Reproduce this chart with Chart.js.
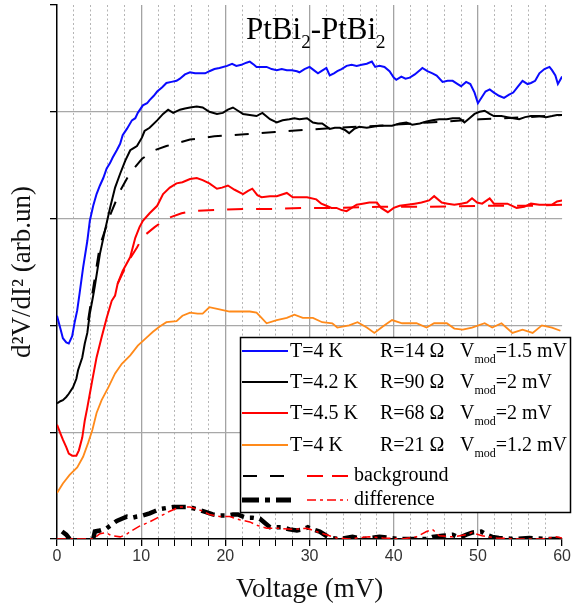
<!DOCTYPE html>
<html>
<head>
<meta charset="utf-8">
<script src="https://cdn.jsdelivr.net/npm/chart.js@4.4.1/dist/chart.umd.min.js"></script>
<style>
  html, body { margin: 0; padding: 0; background: #fff; }
</style>
</head>
<body>
<canvas id="chart" width="572" height="610"></canvas>
<script>
// T=4 K, R=14 Ohm (blue)
const blueX = [0,0.4,0.7,1.1,1.4,1.8,2.1,2.4,2.7,3.1,3.6,3.9,4.3,4.7,5.1,5.5,5.9,6.3,6.6,7.1,7.5,7.8,8.3,8.9,9.3,9.6,10.2,10.7,11.0,11.5,11.9,12.5,13.0,13.6,14.2,14.6,15.2,15.8,16.4,17.0,17.6,18.1,18.7,19.3,20.2,20.8,21.3,21.9,22.5,22.9,23.4,23.7,24.3,24.9,25.5,26.1,26.7,27.3,27.9,28.5,28.8,29.4,30.0,30.5,31.0,31.4,32.0,32.4,32.9,33.3,33.8,34.4,35.0,35.6,36.2,36.8,37.4,37.8,38.3,38.9,39.5,40.0,40.3,40.9,41.4,41.9,42.5,43.1,43.4,44.0,44.6,45.1,45.8,46.4,47.0,47.6,48.0,48.6,49.1,49.6,50.0,50.4,50.9,51.4,51.9,52.5,53.1,53.7,54.2,54.7,55.3,55.9,56.3,56.8,57.3,57.9,58.5,58.8,59.2,59.5,60];
const blueY = [2.09,1.97,1.88,1.84,1.83,1.90,2.03,2.14,2.31,2.54,2.79,2.98,3.12,3.23,3.31,3.38,3.47,3.52,3.57,3.64,3.70,3.78,3.84,3.92,3.94,3.99,4.06,4.08,4.11,4.15,4.19,4.23,4.27,4.28,4.29,4.31,4.35,4.37,4.36,4.36,4.36,4.38,4.40,4.41,4.43,4.45,4.43,4.44,4.46,4.47,4.44,4.42,4.42,4.42,4.40,4.39,4.40,4.39,4.39,4.38,4.37,4.40,4.42,4.39,4.36,4.38,4.41,4.34,4.36,4.38,4.40,4.43,4.44,4.43,4.44,4.45,4.47,4.42,4.43,4.42,4.38,4.32,4.30,4.33,4.31,4.32,4.35,4.39,4.41,4.38,4.36,4.34,4.28,4.29,4.29,4.26,4.24,4.28,4.26,4.18,4.08,4.13,4.19,4.21,4.18,4.15,4.13,4.16,4.18,4.23,4.29,4.26,4.27,4.29,4.36,4.40,4.42,4.39,4.34,4.26,4.33];

// T=4.2 K, R=90 Ohm (black) + background
const blackX = [0,0.4,0.7,1.1,1.4,1.9,2.3,2.5,3.0,3.3,3.6,3.9,4.3,4.5,5.1,5.7,6.3,6.9,7.5,8.1,8.7,9.1,9.5,10.1,10.4,11.0,11.9,12.6,13.2,13.8,14.6,15.2,15.8,16.6,17.3,18.1,19.0,19.7,20.3,20.9,21.5,22.1,22.9,23.7,24.4,25.3,26.1,26.8,27.6,28.2,28.8,29.7,30.4,31.0,31.5,32.4,33.0,33.6,34.2,34.7,35.3,35.9,36.8,37.5,38.3,39.1,39.8,40.7,41.5,42.2,43.1,43.9,44.6,45.4,46.3,47.0,47.8,48.4,49.0,49.6,50.2,50.8,51.4,51.9,52.8,53.5,54.2,54.9,55.6,56.3,57.3,58.1,58.8,59.4,60];
const blackY = [1.27,1.29,1.30,1.33,1.36,1.42,1.50,1.58,1.70,1.83,1.93,2.11,2.28,2.37,2.67,2.89,3.10,3.29,3.42,3.54,3.64,3.66,3.68,3.76,3.82,3.85,3.92,3.98,4.02,3.99,4.02,4.03,4.04,4.05,4.04,4.00,3.98,3.99,4.02,4.04,4.01,3.98,3.97,3.96,3.99,3.93,3.90,3.92,3.93,3.94,3.93,3.94,3.90,3.89,3.89,3.84,3.85,3.85,3.83,3.80,3.84,3.86,3.85,3.86,3.87,3.87,3.87,3.89,3.90,3.88,3.89,3.91,3.92,3.93,3.93,3.94,3.94,3.90,3.94,3.98,4.00,4.01,3.98,3.96,3.96,3.95,3.94,3.93,3.95,3.96,3.96,3.95,3.96,3.97,3.97];
const blackBgX = [3.7,5.1,6.3,7.5,8.7,10.1,11.6,13.0,15.8,18.7,22.3,25.9,29.4,33.0,38.3,44.2,50.2,56.1,60];
const blackBgY = [2.05,2.75,3.03,3.26,3.43,3.56,3.64,3.68,3.74,3.77,3.79,3.81,3.83,3.85,3.87,3.90,3.93,3.95,3.97];

// T=4.5 K, R=68 Ohm (red) + background
const redX = [0,0.4,0.7,1.1,1.4,1.8,2.3,2.6,3.0,3.3,3.6,3.9,4.2,4.7,5.3,5.9,6.5,6.9,7.2,7.8,8.7,9.3,9.8,10.2,11.0,11.9,12.6,13.4,14.2,14.9,15.8,16.6,17.3,18.1,19.0,19.6,20.3,21.1,22.1,22.7,23.2,23.8,24.3,25.3,26.1,27.3,28.0,28.8,29.7,30.8,31.4,32.0,32.6,33.2,33.8,34.4,35.0,35.6,36.3,37.1,38.0,38.5,39.3,40.0,40.7,41.6,42.5,43.3,44.2,44.8,45.7,46.4,47.2,48.0,48.7,49.3,49.9,50.5,51.4,51.9,52.5,53.5,54.6,55.5,56.3,57.3,58.1,58.8,59.4,60];
const redY = [1.07,0.99,0.93,0.86,0.80,0.78,0.78,0.83,0.95,1.11,1.23,1.36,1.49,1.70,1.89,2.07,2.23,2.28,2.39,2.51,2.64,2.82,2.92,2.98,3.05,3.12,3.23,3.29,3.33,3.34,3.37,3.38,3.36,3.33,3.28,3.29,3.31,3.27,3.23,3.26,3.28,3.22,3.20,3.21,3.21,3.24,3.20,3.20,3.20,3.18,3.14,3.12,3.10,3.10,3.08,3.07,3.10,3.13,3.14,3.15,3.15,3.10,3.06,3.10,3.12,3.13,3.14,3.15,3.17,3.21,3.15,3.14,3.13,3.14,3.15,3.19,3.15,3.14,3.19,3.14,3.14,3.14,3.10,3.11,3.14,3.13,3.13,3.13,3.16,3.17];
const redBgX = [7.2,8.4,9.5,10.2,11.6,13.0,14.8,16.1,18.7,22.3,25.9,29.4,33.0,38.3,44.2,50.2,56.1,60];
const redBgY = [2.39,2.59,2.73,2.83,2.92,3.00,3.05,3.07,3.08,3.09,3.09,3.10,3.10,3.11,3.11,3.12,3.12,3.13];

// T=4 K, R=21 Ohm (orange)
const orangeX = [0,0.7,1.5,2.4,3.1,3.7,4.2,4.7,5.3,6.1,6.9,7.7,8.7,9.6,10.7,11.4,12.2,13.0,14.2,14.9,15.8,16.7,17.3,18.1,19.3,20.5,21.7,22.9,23.7,24.3,24.9,26.1,27.3,28.2,29.2,30.4,31.5,32.7,33.3,34.7,35.7,36.8,37.7,38.7,39.8,41.0,42.7,43.9,44.8,46.3,47.2,48.2,49.3,50.8,51.7,52.8,54.1,55.3,56.5,57.6,58.8,59.8];
const orangeY = [0.43,0.52,0.60,0.67,0.77,0.90,1.02,1.18,1.30,1.42,1.55,1.64,1.72,1.81,1.89,1.94,1.99,2.03,2.04,2.09,2.12,2.11,2.11,2.17,2.15,2.13,2.13,2.13,2.12,2.07,2.02,2.05,2.07,2.10,2.07,2.07,2.03,2.02,1.98,2.00,2.03,1.98,1.93,1.99,2.05,2.02,2.02,1.98,2.02,2.02,1.97,1.96,1.98,2.02,1.98,2.02,1.93,1.96,1.93,2.00,1.98,1.95];

// difference curves
const blackDiffX = [0.6,1.1,1.5,2.7,4.3,4.5,5.1,5.9,6.6,7.1,7.7,8.3,9.0,9.5,10.2,11.0,11.6,12.2,13.0,13.8,14.6,15.4,16.1,17.0,17.8,18.5,19.3,20.2,20.9,21.5,22.1,22.5,23.2,24.1,24.7,25.3,26.1,26.8,27.6,28.5,29.2,29.8,30.4,31.2,31.8,32.4,33.6,35.1,36.5,38.3,39.5,40.7,42.5,43.9,44.6,45.8,47.0,47.8,48.6,49.3,50.4,51.0,51.7,52.5,54.3,56.1,57.9,59.7];
const blackDiffY = [0.07,0.04,0,null,0,0.07,0.08,0.10,0.14,0.17,0.19,0.21,0.20,0.21,0.22,0.24,0.26,0.28,0.29,0.30,0.30,0.30,0.29,0.27,0.25,0.23,0.22,0.22,0.23,0.23,0.21,0.20,0.20,0.19,0.15,0.11,0.11,0.11,0.09,0.08,0.09,0.11,0.09,0.07,0.04,0.01,0,0.02,0,0.02,0.01,0,0,0,0.02,0.03,0.04,0.01,0.04,0.06,0.07,0.04,0.02,0.01,0,0.01,0,0];
const redDiffX = [0,4.3,5.1,5.8,6.5,7.5,8.2,8.7,9.8,11.0,12.2,13.4,14.6,15.8,17.0,18.1,19.3,20.5,21.7,22.9,23.7,24.9,26.4,28.0,29.7,30.8,32.0,33.2,34.7,35.6,37.1,38.7,41.0,42.7,43.9,44.6,45.4,47.0,48.6,49.3,50.5,52.2,54.6,57.6,59.3,60];
const redDiffY = [0,0,0.05,0.06,0.03,0.02,0.04,0.07,0.12,0.16,0.21,0.26,0.30,0.30,0.27,0.23,0.21,0.21,0.18,0.16,0.13,0.10,0.10,0.09,0.10,0.07,0.04,0.01,0,0.01,0.02,0.01,0,0.02,0.07,0.09,0.03,0.02,0.04,0.06,0.03,0.01,0,0,0.02,0.01];

// legend texts
const legendT = ['T=4 K', 'T=4.2 K', 'T=4.5 K', 'T=4 K'];
const legendR = ['R=14 Ω', 'R=90 Ω', 'R=68 Ω', 'R=21 Ω'];
const legendV = ['=1.5 mV', '=2 mV', '=2 mV', '=1.2 mV'];
const legendColors = ['#0a0aff', '#000000', '#ff0000', '#ff8a1a'];

const serif = '"Liberation Serif", "Times New Roman", serif';
const sans = '"Liberation Sans", Arial, sans-serif';
const clear = 'rgba(0,0,0,0)';

function pts(xs, ys) {
    return xs.map((x, i) => ({ x: x, y: ys[i] }));
}

function line(label, xs, ys, color, width, dash, order) {
    return {
        label: label,
        data: pts(xs, ys),
        borderColor: color,
        borderWidth: width,
        borderDash: dash,
        borderCapStyle: 'butt',
        pointRadius: 0,
        fill: false,
        tension: 0,
        spanGaps: false,
        order: order
    };
}

function isMajor(c) {
    return !c.tick || c.tick.value % 10 === 0;
}

// text with subscripts, parts = [text, size, dy]
function drawParts(ctx, parts, x, y) {
    parts.forEach(p => {
        ctx.font = p[1] + 'px ' + serif;
        ctx.fillText(p[0], x, y + p[2]);
        x += ctx.measureText(p[0]).width;
    });
    return x;
}

const annotations = {
    id: 'annotations',
    afterDraw(chart) {
        const ctx = chart.ctx;
        ctx.save();
        ctx.fillStyle = '#000';
        ctx.textBaseline = 'alphabetic';
        ctx.textAlign = 'left';

        // title
        drawParts(ctx, [['PtBi', 31, 0], ['2', 19, 9], ['-PtBi', 31, 0], ['2', 19, 9]], 246, 39);

        // legend box
        ctx.fillStyle = '#fff';
        ctx.fillRect(240, 337, 331, 175);
        ctx.strokeStyle = '#000';
        ctx.lineWidth = 1.5;
        ctx.strokeRect(240.5, 337.5, 330, 175);

        const base = [357, 388, 419, 451];
        ctx.fillStyle = '#000';
        legendT.forEach((t, i) => {
            const y = base[i];
            ctx.strokeStyle = legendColors[i];
            ctx.lineWidth = 2;
            ctx.setLineDash([]);
            ctx.beginPath();
            ctx.moveTo(242, y - 6);
            ctx.lineTo(288, y - 6);
            ctx.stroke();
            ctx.font = '20px ' + serif;
            ctx.fillText(t, 290, y);
            ctx.fillText(legendR[i], 380, y);
            drawParts(ctx, [['V', 20, 0], ['mod', 12, 6], [legendV[i], 20, 0]], 460, y);
        });

        function sample(x1, x2, y, color, width, dash) {
            ctx.strokeStyle = color;
            ctx.lineWidth = width;
            ctx.setLineDash(dash);
            ctx.beginPath();
            ctx.moveTo(x1, y);
            ctx.lineTo(x2, y);
            ctx.stroke();
        }
        sample(243, 287, 476, '#000', 2, [14, 13]);
        sample(307, 348, 476, '#ff0000', 2, [16, 9]);
        sample(242, 291, 500, '#000', 5, [17, 6, 5, 6]);
        sample(307, 348, 500, '#ff0000', 1.5, [9, 4, 3, 4]);
        ctx.setLineDash([]);
        ctx.font = '20px ' + serif;
        ctx.fillText('background', 354, 481);
        ctx.fillText('difference', 354, 505);
        ctx.restore();
    }
};

new Chart(document.getElementById('chart'), {
    type: 'line',
    data: {
        datasets: [
            line('T=4 K R=14', blueX, blueY, '#0a0aff', 2, [], 0),
            line('T=4.2 K R=90', blackX, blackY, '#000000', 2, [], 1),
            line('T=4.5 K R=68', redX, redY, '#ff0000', 2, [], 2),
            line('T=4 K R=21', orangeX, orangeY, '#ff8a1a', 1.8, [], 3),
            line('background black', blackBgX, blackBgY, '#000000', 2, [14, 13], 4),
            line('background red', redBgX, redBgY, '#ff0000', 2, [16, 13], 5),
            line('difference red', redDiffX, redDiffY, '#ff0000', 1.5, [9, 4, 3, 4], 6),
            line('difference black', blackDiffX, blackDiffY, '#000000', 4.5, [14, 6, 4, 6], 7)
        ]
    },
    options: {
        responsive: false,
        animation: false,
        layout: { padding: { top: 5, right: 9, left: 0, bottom: 0 } },
        plugins: {
            legend: { display: false },
            tooltip: { enabled: false }
        },
        scales: {
            x: {
                type: 'linear',
                min: 0,
                max: 60,
                ticks: {
                    stepSize: 2,
                    autoSkip: false,
                    maxRotation: 0,
                    maxTicksLimit: 100,
                    padding: 1,
                    color: '#333',
                    font: { family: sans, size: 16 },
                    callback: v => (v % 10 === 0 ? String(v) : ' ')
                },
                grid: {
                    color: c => {
                        const v = c.tick ? c.tick.value : 0;
                        if (v === 0 || v === 60) return clear;
                        return v % 10 === 0 ? '#a3a3a3' : '#b4b4b4';
                    },
                    lineWidth: c => (isMajor(c) ? 1.3 : 1),
                    tickColor: '#000',
                    tickLength: 7
                },
                border: {
                    color: '#000',
                    width: 1.5,
                    dash: c => (isMajor(c) ? [] : [2, 2.5])
                },
                title: {
                    display: true,
                    text: 'Voltage (mV)',
                    color: '#111',
                    font: { family: serif, size: 27 },
                    padding: { top: 0, bottom: 4 }
                },
                afterFit: s => { s.height = 71; }
            },
            y: {
                type: 'linear',
                min: 0,
                max: 5,
                ticks: { stepSize: 1, display: false },
                grid: {
                    color: c => {
                        const v = c.tick ? c.tick.value : 0;
                        return v > 0 && v < 5 ? '#a8a8a8' : clear;
                    },
                    lineWidth: 1.3,
                    tickColor: '#000',
                    tickLength: 7
                },
                border: { color: '#000', width: 1.5 },
                title: {
                    display: true,
                    text: 'd²V/dI² (arb.un)',
                    color: '#111',
                    font: { family: serif, size: 27 },
                    padding: { top: 7, bottom: 0 }
                },
                afterFit: s => { s.width = 57; }
            }
        }
    },
    plugins: [annotations]
});
</script>
</body>
</html>
